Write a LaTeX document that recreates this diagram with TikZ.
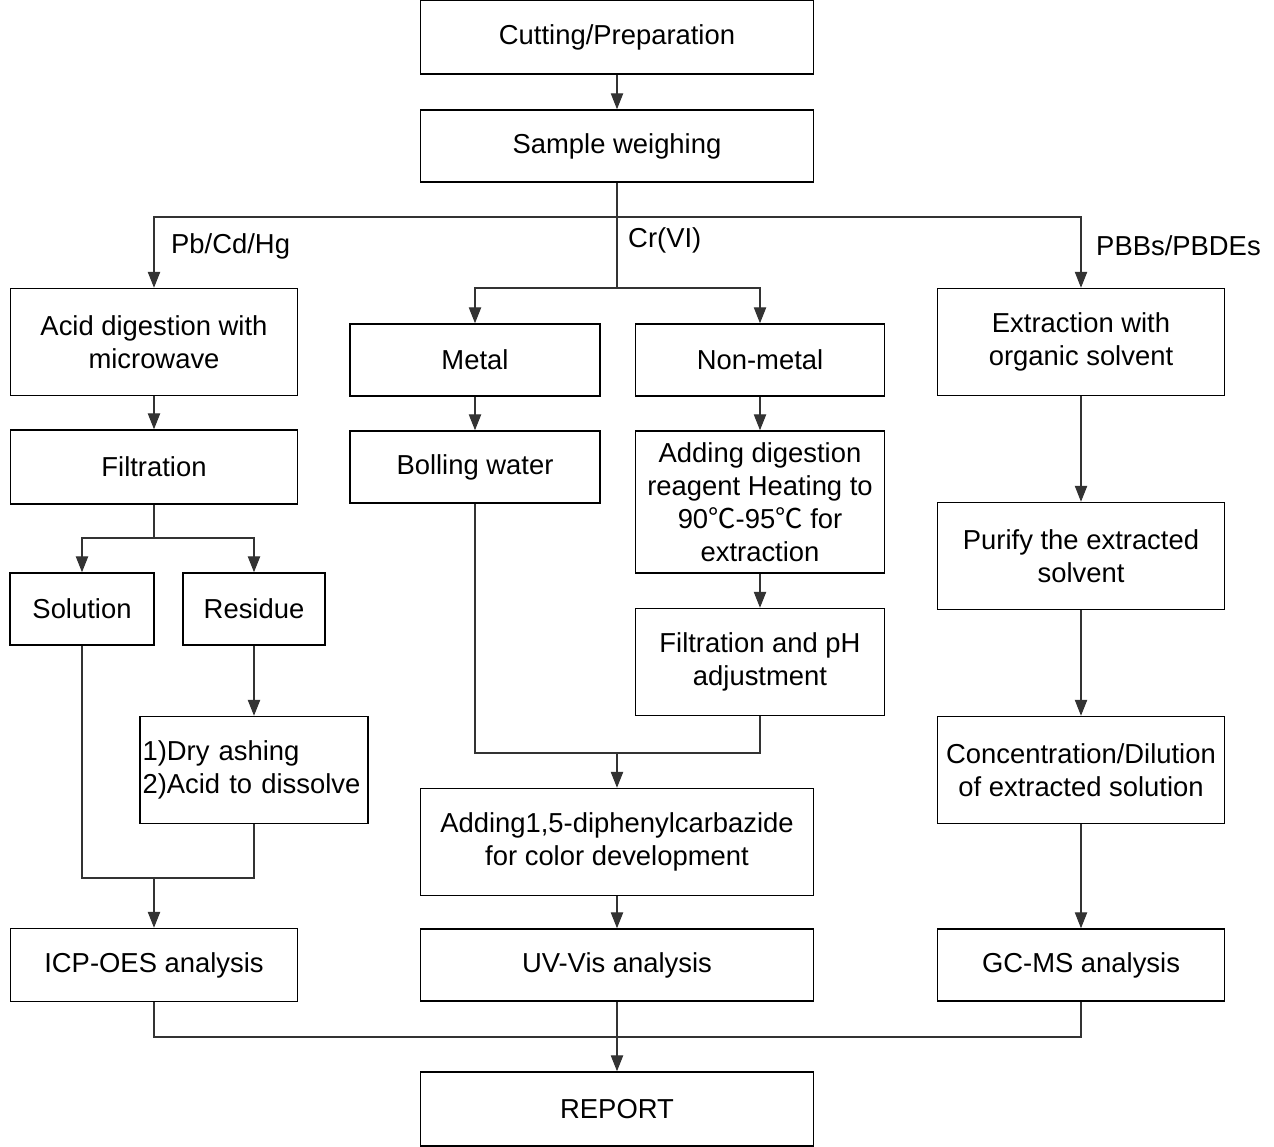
\documentclass[tikz,border=0pt]{standalone}
\usepackage{fontspec}
\setmainfont{Liberation Sans}
\newfontfamily\cjk{Noto Sans CJK SC}
\usetikzlibrary{arrows.meta}

\begin{document}
\begin{tikzpicture}[x=0.02cm,y=-0.02cm,
  box/.style={draw, line width=.9pt, inner sep=0pt, align=center,
    font=\fontsize{15.6}{18.8}\selectfont},
  low/.style={minimum height=1.44cm},
  tall/.style={minimum height=2.14cm},
  wide/.style={minimum width=7.86cm},
  side/.style={minimum width=5.74cm},
  mid/.style={minimum width=4.98cm},
  lbl/.style={anchor=west, font=\fontsize{15.6}{18.8}\selectfont},
  line/.style={draw=black!80, line width=.6pt},
  arr/.style={line, -{Triangle[length=9pt,width=7pt]}}]
	\useasboundingbox (0,0) rectangle (1274,1146);

	\node[box, wide, minimum height=1.48cm] (CP) at (617,37) {Cutting/Preparation};
	\node[box, wide, low] (SW) at (617,146) {Sample weighing};

	\node[box, side, tall] (AD) at (154,342) {Acid digestion with\\microwave};
	\node[box, mid, low, minimum width=5cm] (MT) at (475,360) {Metal};
	\node[box, mid, low] (NM) at (760,360) {Non-metal};
	\node[box, side, tall] (EX) at (1081,342) {Extraction with\\organic solvent};

	\node[box, side, minimum height=1.48cm] (FI) at (154,467) {Filtration};
	\node[box, mid, low, minimum width=5cm] (BW) at (475,467) {Bolling water};
	\node[box, mid, minimum height=2.84cm] (AH) at (760,502) {Adding digestion\\reagent Heating to\\90{\cjk ℃}-95{\cjk ℃} for\\extraction};
	\node[box, side, tall] (PU) at (1081,556) {Purify the extracted\\solvent};

	\node[box, low, minimum width=2.88cm] (SO) at (82,609) {Solution};
	\node[box, low, minimum width=2.84cm] (RE) at (254,609) {Residue};
	\node[box, mid, tall] (FP) at (760,662) {Filtration and pH\\adjustment};

	\node[box, tall, minimum width=4.56cm, text width=4.46cm, align=left] (DA) at (254,770) {1)Dry ashing\\2)Acid to dissolve};
	\node[box, side, tall] (CD) at (1081,770) {Concentration/Dilution\\of extracted solution};
	\node[box, wide, tall] (DC) at (617,842) {Adding1,5-diphenylcarbazide\\for color development};

	\node[box, side, minimum height=1.46cm] (IC) at (154,965) {ICP-OES analysis};
	\node[box, wide, low] (UV) at (617,965) {UV-Vis analysis};
	\node[box, side, low] (GC) at (1081,965) {GC-MS analysis};
	\node[box, wide, minimum height=1.48cm] (RP) at (617,1109) {REPORT};

	\node[lbl] (LA) at (165,246) {Pb/Cd/Hg};
	\node[lbl] (LB) at (622,240) {Cr(VI)};
	\node[lbl] (LC) at (1090,246) {PBBs/PBDEs};

	\coordinate (J1) at (617,217);
	\coordinate (J2) at (617,288);
	\coordinate (J3) at (154,538);
	\coordinate (J4) at (154,878);
	\coordinate (J5) at (617,753);
	\coordinate (J6) at (617,1037);

	% main branches
	\draw[arr] (CP) -- (SW);
	\draw[line] (SW) -- (J2);
	\draw[arr] (J1) -| (AD);
	\draw[arr] (J1) -| (EX);
	\draw[arr] (J2) -| (MT);
	\draw[arr] (J2) -| (NM);

	% Pb/Cd/Hg
	\draw[arr] (AD) -- (FI);
	\draw[line] (FI) -- (J3);
	\draw[arr] (J3) -| (SO);
	\draw[arr] (J3) -| (RE);
	\draw[arr] (RE) -- (DA);
	\draw[line] (SO) |- (J4);
	\draw[line] (DA) |- (J4);
	\draw[arr] (J4) -- (IC);

	% Cr(VI)
	\draw[arr] (MT) -- (BW);
	\draw[arr] (NM) -- (AH);
	\draw[arr] (AH) -- (FP);
	\draw[line] (BW) |- (J5);
	\draw[line] (FP) |- (J5);
	\draw[arr] (J5) -- (DC);
	\draw[arr] (DC) -- (UV);

	% PBBs/PBDEs
	\draw[arr] (EX) -- (PU);
	\draw[arr] (PU) -- (CD);
	\draw[arr] (CD) -- (GC);

	% report
	\draw[line] (IC) |- (J6);
	\draw[line] (GC) |- (J6);
	\draw[arr] (UV) -- (RP);
\end{tikzpicture}
\end{document}
